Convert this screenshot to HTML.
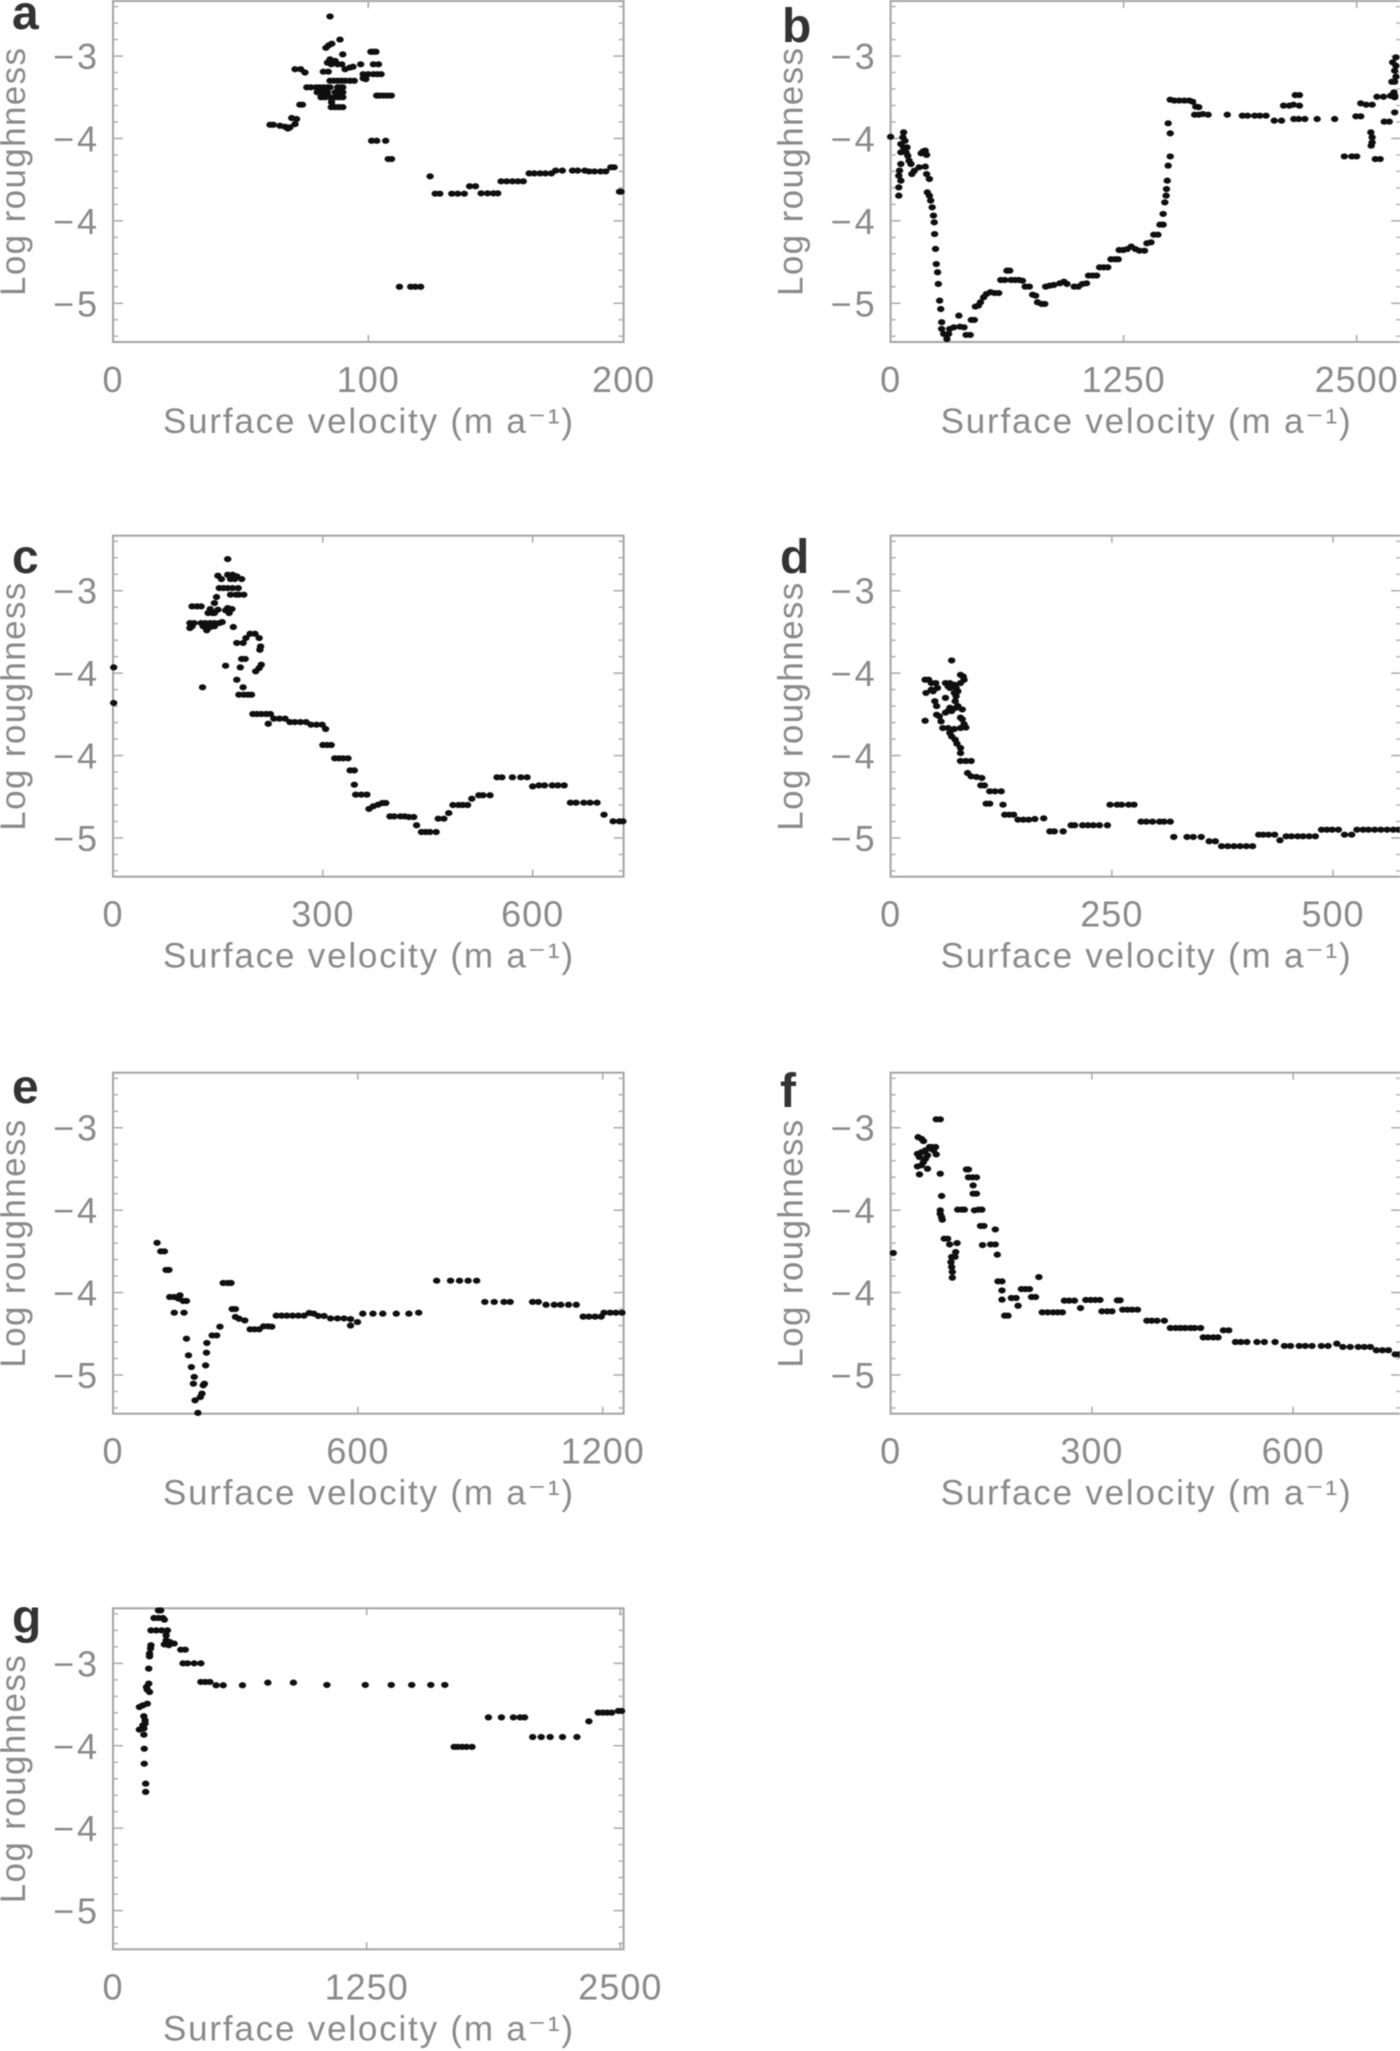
<!DOCTYPE html>
<html lang="en">
<head>
<meta charset="utf-8">
<title>Log roughness against surface velocity</title>
<style>
html,body{margin:0;padding:0;background:#fff;}
body{width:1400px;height:2051px;overflow:hidden;}
svg{display:block;filter:blur(0.6px);}
text{font-family:"Liberation Sans",sans-serif;fill:#8a8a8a;}
.panel-letter{font-weight:bold;font-size:48px;fill:#333;}
</style>
</head>
<body>
<svg id="figure" xmlns="http://www.w3.org/2000/svg" width="1400" height="2051" viewBox="0 0 1400 2051"></svg>
<script>
const yTickValues=[-3,-3.5,-4,-4.5];
const yTickLabels=["−3","−4","−4","−5"];
const yMinorValues=[-2.7,-2.8,-2.9,-3.1,-3.2,-3.3,-3.4,-3.6,-3.7,-3.8,-3.9,-4.1,-4.2,-4.3,-4.4,-4.6,-4.7];
const yMax=-2.666;
const yMin=-4.735;

const xMaxA=200, xMaxB=2739, xMaxC=730, xMaxD=577, xMaxE=1251, xMaxF=761, xMaxG=2516;
const xTicksA=[0,100,200];
const xTicksB=[0,1250,2500];
const xTicksC=[0,300,600];
const xTicksD=[0,250,500];
const xTicksE=[0,600,1200];
const xTicksF=[0,300,600];
const xTicksG=[0,1250,2500];

const pointsA=[[85,-2.76],[88.9,-2.9],[85.7,-2.925],[84.5,-2.935],[83.4,-2.95],[101,-2.974],[102,-2.974],[103,-2.974],[90,-2.99],
[84,-3.04],[85,-3.02],[86,-3.03],[87,-3.03],[88,-3.05],[85.5,-3.05],[89.6,-3.05],[90.9,-3.08],[92.8,-3.07],[94,-3.065],[97,-3.05],[102,-3.05],[104,-3.05],
[71.3,-3.08],[73.5,-3.08],[75.2,-3.1],[82.4,-3.095],[84.3,-3.095],[98,-3.11],[100,-3.11],[102,-3.11],[103.5,-3.11],[105,-3.11],[99,-3.14],[98,-3.135],
[85,-3.15],[86.5,-3.15],[88,-3.15],[89.5,-3.15],[91,-3.15],[92.8,-3.15],[94.5,-3.15],[81,-3.19],[82.5,-3.19],[84,-3.19],[85,-3.19],[88,-3.19],[89,-3.19],[90,-3.19],
[80,-3.22],[82,-3.22],[84,-3.22],[87,-3.22],[89,-3.22],[90,-3.22],[81.5,-3.25],[83,-3.25],[85,-3.25],[87,-3.25],[88.5,-3.25],[90,-3.25],[75.9,-3.19],[77.5,-3.19],[79.5,-3.19],
[103.3,-3.24],[104.5,-3.24],[106,-3.24],[107.5,-3.24],[109,-3.24],[73.2,-3.295],[74.2,-3.295],[85.6,-3.28],[85.5,-3.31],[87,-3.31],[88.5,-3.31],[90,-3.31],
[70,-3.376],[71.9,-3.382],[71.3,-3.413],[69.3,-3.433],[68.5,-3.44],[67.4,-3.429],[65.4,-3.423],[62.8,-3.417],[61.5,-3.417],
[101.3,-3.514],[103.3,-3.514],[106.8,-3.514],[107.8,-3.625],[109.1,-3.625],[124.2,-3.73],
[126.2,-3.835],[128,-3.835],[132.7,-3.835],[135,-3.835],[137.6,-3.835],[139.7,-3.79],[142,-3.79],[144.2,-3.833],[146.7,-3.833],[149,-3.833],[150.7,-3.833],
[152,-3.76],[154.2,-3.76],[156.5,-3.76],[158.6,-3.76],[160.7,-3.76],[163,-3.712],[165,-3.712],[167.3,-3.712],[169.4,-3.712],[171.7,-3.712],[173.4,-3.695],[176,-3.695],
[180,-3.695],[182,-3.695],[184.8,-3.695],[186.5,-3.7],[188.6,-3.7],[191,-3.7],[193,-3.7],[195,-3.675],[196.3,-3.675],[198.4,-3.823],[199,-3.823],
[112.2,-4.4],[116.6,-4.4],[118.4,-4.4],[120.5,-4.4]];

const pointsB=[[0,-3.49],[70,-3.463],[55,-3.534],[66,-3.493],[77,-3.514],[55,-3.584],[70,-3.554],[88,-3.554],[83,-3.584],[92,-3.605],[99,-3.635],[109,-3.655],
[55,-3.655],[48,-3.695],[44,-3.726],[55,-3.756],[44,-3.797],[44,-3.847],[114,-3.716],[127,-3.696],[153,-3.675],[186,-3.671],[175,-3.578],[186,-3.574],[193,-3.6],[164,-3.59],
[193,-3.716],[208,-3.746],[197,-3.827],[208,-3.847],[215,-3.877],[223,-3.918],[230,-3.968],[234,-4.009],[236,-4.08],[241,-4.17],[245,-4.262],[252,-4.312],[256,-4.383],[263,-4.484],[269,-4.535],
[274,-4.615],[274,-4.656],[285,-4.686],[302,-4.717],[311,-4.686],[317,-4.656],[339,-4.646],[372,-4.642],[394,-4.646],[366,-4.575],[405,-4.692],[427,-4.692],[433,-4.601],[449,-4.601],
[455,-4.52],[471,-4.514],[482,-4.494],[499,-4.464],[514,-4.444],[536,-4.433],[558,-4.438],[580,-4.438],[591,-4.359],[613,-4.359],[624,-4.302],[639,-4.302],[646,-4.359],[668,-4.359],[689,-4.359],[707,-4.363],
[722,-4.399],[744,-4.399],[762,-4.448],[778,-4.454],[788,-4.494],[810,-4.504],[827,-4.504],[832,-4.399],[854,-4.393],[876,-4.389],[908,-4.379],[930,-4.369],[946,-4.383],[985,-4.399],[1007,-4.399],[1029,-4.383],[1051,-4.379],
[1062,-4.332],[1084,-4.332],[1105,-4.332],[1121,-4.282],[1143,-4.282],[1165,-4.282],[1182,-4.233],[1204,-4.233],[1221,-4.233],[1226,-4.177],[1248,-4.177],[1270,-4.171],[1291,-4.156],[1313,-4.171],[1335,-4.181],[1362,-4.181],
[1375,-4.136],[1397,-4.13],[1412,-4.084],[1434,-4.084],[1445,-4.023],[1462,-4.023],[1462,-3.958],[1471,-3.888],[1478,-3.847],[1480,-3.807],[1484,-3.756],[1489,-3.665],[1500,-3.609],[1500,-3.469],[1489,-3.408],
[1500,-3.265],[1522,-3.27],[1548,-3.27],[1576,-3.27],[1602,-3.27],[1620,-3.277],[1637,-3.307],[1653,-3.31],[1631,-3.356],[1653,-3.356],[1675,-3.352],[1703,-3.356],
[1806,-3.356],[1887,-3.362],[1915,-3.362],[1953,-3.362],[1981,-3.362],[2014,-3.362],[2058,-3.392],[2097,-3.392],[2108,-3.301],[2139,-3.301],[2161,-3.295],[2193,-3.301],[2171,-3.237],[2193,-3.237],
[2163,-3.382],[2189,-3.382],[2222,-3.382],[2288,-3.382],[2382,-3.382],[2496,-3.366],[2522,-3.366],[2522,-3.287],[2551,-3.295],[2583,-3.295],[2609,-3.247],[2644,-3.247],[2682,-3.241],[2704,-3.241],[2704,-3.25],
[2434,-3.609],[2474,-3.609],[2500,-3.609],[2576,-3.463],[2583,-3.493],[2583,-3.524],[2578,-3.544],[2600,-3.625],[2626,-3.625],[2648,-3.398],[2675,-3.398],[2704,-3.342],
[2711,-3.008],[2693,-3.038],[2711,-3.059],[2704,-3.089],[2711,-3.125],[2689,-3.156],[2704,-3.156],[2700,-3.22]];

const pointsC=[[164,-2.808],[150,-2.909],[155,-2.929],[164,-2.903],[171,-2.903],[177,-2.913],[168,-2.929],[174,-2.929],[184,-2.929],
[152,-2.984],[158,-2.984],[164,-2.984],[171,-2.984],[179,-2.984],[168,-3.024],[176,-3.024],[180,-3.024],[187,-3.024],[148,-3.038],[145,-3.075],[164,-3.105],[170,-3.111],[161,-3.119],[166,-3.135],
[113,-3.095],[120,-3.095],[126,-3.095],[136,-3.135],[142,-3.135],[139,-3.111],[150,-3.115],[145,-3.135],
[110,-3.196],[116,-3.196],[126,-3.196],[132,-3.196],[139,-3.196],[145,-3.196],[152,-3.196],[156,-3.19],[113,-3.216],[110,-3.226],[134,-3.24],[139,-3.22],[145,-3.216],[129,-3.216],[172,-3.22],
[177,-3.317],[186,-3.317],[196,-3.261],[203,-3.261],[190,-3.287],[209,-3.287],[211,-3.338],[210,-3.358],[184,-3.414],[189,-3.414],[182,-3.465],[161,-3.455],[212,-3.449],[209,-3.469],[204,-3.489],
[177,-3.54],[186,-3.586],[128,-3.586],[180,-3.631],[187,-3.631],[193,-3.631],[198,-3.631],[1,-3.465],[1,-3.681],
[200,-3.748],[206,-3.748],[212,-3.748],[219,-3.748],[225,-3.748],[222,-3.807],[230,-3.776],[238,-3.776],[246,-3.776],[253,-3.797],[260,-3.797],[268,-3.797],[276,-3.797],[283,-3.813],[291,-3.813],[299,-3.813],[304,-3.839],
[300,-3.936],[306,-3.936],[312,-3.936],[317,-4.017],[323,-4.017],[329,-4.017],[336,-4.017],[339,-4.09],[345,-4.09],[345,-4.177],[347,-4.237],[355,-4.237],[363,-4.237],
[366,-4.324],[372,-4.308],[379,-4.298],[385,-4.288],[390,-4.288],[396,-4.369],[402,-4.369],[411,-4.369],[417,-4.369],[423,-4.373],[430,-4.373],[434,-4.423],
[441,-4.464],[447,-4.464],[453,-4.464],[462,-4.464],[465,-4.383],[473,-4.383],[480,-4.349],[486,-4.3],[494,-4.3],[500,-4.3],[507,-4.3],[513,-4.262],[523,-4.241],[529,-4.241],[539,-4.241],
[549,-4.132],[556,-4.132],[571,-4.132],[583,-4.132],[592,-4.132],[600,-4.187],[609,-4.181],[617,-4.181],[628,-4.181],[636,-4.181],[645,-4.181],
[654,-4.286],[662,-4.286],[673,-4.286],[682,-4.286],[692,-4.286],[702,-4.359],[715,-4.399],[724,-4.399],[729,-4.399]];

const pointsD=[[69,-3.423],[39,-3.54],[43,-3.54],[40,-3.62],[46,-3.56],[51,-3.56],[53,-3.59],[48,-3.61],[46,-3.6],[50,-3.67],[52,-3.7],[52,-3.752],[55,-3.762],[39,-3.789],[57,-3.793],[59,-3.833],[65,-3.833],[72,-3.839],[79,-3.833],
[62,-3.56],[67,-3.56],[72,-3.57],[79,-3.51],[82,-3.52],[83,-3.54],[79,-3.56],[74,-3.59],[76,-3.61],[72,-3.62],[67,-3.59],[65,-3.58],[62,-3.65],[74,-3.64],[73,-3.67],[76,-3.7],[67,-3.71],[62,-3.74],[69,-3.73],[81,-3.72],[79,-3.77],[81,-3.78],[83,-3.81],[85,-3.83],[65,-3.73],[74,-3.71],
[67,-3.863],[69,-3.884],[73,-3.904],[75,-3.928],[79,-3.954],[79,-3.985],[79,-4.033],[85,-4.033],[91,-4.033],[87,-4.106],[91,-4.126],[97,-4.13],[103,-4.136],[102,-4.181],[106,-4.181],
[112,-4.217],[118,-4.217],[125,-4.217],[108,-4.292],[112,-4.292],[127,-4.298],[129,-4.359],[134,-4.359],[139,-4.359],[144,-4.389],[150,-4.389],[156,-4.389],[163,-4.385],[173,-4.381],
[180,-4.46],[185,-4.46],[195,-4.46],[204,-4.423],[208,-4.423],[217,-4.423],[223,-4.423],[229,-4.423],[236,-4.423],[245,-4.423],[248,-4.298],[256,-4.298],[261,-4.298],[269,-4.298],[275,-4.298],
[283,-4.401],[289,-4.401],[296,-4.401],[304,-4.401],[309,-4.401],[316,-4.401],[320,-4.494],[335,-4.494],[342,-4.494],[351,-4.494],[360,-4.52],[367,-4.52],
[374,-4.55],[381,-4.55],[388,-4.55],[395,-4.55],[402,-4.55],[409,-4.55],[416,-4.48],[421,-4.48],[427,-4.48],[434,-4.48],[440,-4.514],
[447,-4.49],[453,-4.49],[460,-4.49],[466,-4.49],[473,-4.49],[480,-4.49],[487,-4.45],[493,-4.45],[499,-4.45],[506,-4.45],[513,-4.48],[521,-4.48],
[527,-4.45],[534,-4.45],[540,-4.45],[547,-4.45],[554,-4.45],[561,-4.45],[568,-4.45],[574,-4.45]];

const pointsE=[[108,-3.698],[117,-3.75],[126,-3.75],[130,-3.863],[137,-3.863],[139,-4.027],[150,-4.027],[164,-4.017],[161,-4.037],[172,-4.051],[180,-4.051],[150,-4.122],[174,-4.122],
[180,-4.28],[185,-4.381],[192,-4.452],[199,-4.512],[197,-4.553],[224,-4.553],[221,-4.563],[227,-4.442],[229,-4.365],[230,-4.306],[201,-4.654],[214,-4.634],[218,-4.613],[208,-4.73],
[243,-4.26],[254,-4.26],[262,-4.207],[270,-3.942],[281,-3.942],[289,-3.942],[292,-4.1],[300,-4.1],[300,-4.148],[309,-4.159],[323,-4.169],
[336,-4.223],[347,-4.223],[358,-4.223],[369,-4.205],[380,-4.205],[389,-4.207],[400,-4.14],[413,-4.14],[426,-4.14],[440,-4.14],[454,-4.14],[468,-4.14],[481,-4.124],[492,-4.128],[503,-4.142],[517,-4.142],
[533,-4.157],[550,-4.157],[566,-4.157],[582,-4.161],[582,-4.2],[599,-4.179],[612,-4.128],[637,-4.128],[661,-4.128],[694,-4.128],[725,-4.128],[749,-4.122],
[793,-3.928],[827,-3.928],[849,-3.928],[870,-3.928],[891,-3.928],[911,-4.057],[934,-4.057],[958,-4.057],[973,-4.057],[1028,-4.057],[1042,-4.057],
[1061,-4.074],[1081,-4.074],[1097,-4.074],[1116,-4.074],[1135,-4.074],[1152,-4.146],[1166,-4.146],[1181,-4.146],[1196,-4.146],[1203,-4.122],[1218,-4.122],[1232,-4.122],[1247,-4.122]];

const pointsF=[[4,-3.76],[68,-2.949],[74,-2.949],[41,-3.057],[46,-3.067],[49,-3.081],[61,-3.117],[67,-3.117],[58,-3.125],
[40,-3.158],[46,-3.148],[52,-3.137],[58,-3.117],[55,-3.168],[64,-3.137],[68,-3.162],[43,-3.178],[52,-3.188],[49,-3.208],[40,-3.235],[46,-3.228],[55,-3.249],[43,-3.283],
[74,-3.279],[76,-3.414],[74,-3.501],[74,-3.522],[76,-3.542],[77,-3.558],[80,-3.673],[85,-3.673],[88,-3.708],[99,-3.7],[97,-3.754],[91,-3.784],[96,-3.784],[90,-3.815],[91,-3.845],[92,-3.875],[92,-3.91],
[113,-3.253],[116,-3.253],[116,-3.301],[122,-3.301],[128,-3.301],[123,-3.35],[123,-3.4],[128,-3.4],[100,-3.497],[106,-3.497],[110,-3.497],[125,-3.501],[131,-3.497],[136,-3.497],[134,-3.596],[139,-3.596],[156,-3.617],
[137,-3.712],[149,-3.708],[156,-3.708],[159,-3.77],[160,-3.932],[166,-3.932],[166,-3.987],[166,-4.043],[180,-4.033],[187,-4.033],[190,-4.08],[170,-4.14],[175,-4.14],
[195,-3.979],[201,-3.979],[207,-3.979],[210,-4.027],[216,-4.027],[221,-3.906],[226,-4.12],[234,-4.12],[242,-4.12],[249,-4.12],[256,-4.12],[259,-4.049],[266,-4.049],[274,-4.049],[283,-4.094],
[291,-4.045],[298,-4.045],[305,-4.045],[312,-4.045],[315,-4.114],[323,-4.114],[330,-4.114],[338,-4.047],[342,-4.047],[346,-4.104],[353,-4.104],[360,-4.104],[368,-4.104],
[382,-4.171],[389,-4.171],[397,-4.171],[408,-4.171],[417,-4.215],[425,-4.215],[432,-4.215],[439,-4.215],[447,-4.215],[453,-4.215],[462,-4.215],[466,-4.272],[473,-4.272],[481,-4.272],[488,-4.272],[496,-4.229],[504,-4.229],
[514,-4.3],[522,-4.3],[531,-4.3],[546,-4.3],[557,-4.3],[573,-4.3],[587,-4.324],[596,-4.324],[609,-4.324],[618,-4.324],[628,-4.324],[642,-4.324],[652,-4.324],[665,-4.31],
[674,-4.33],[685,-4.33],[697,-4.33],[706,-4.33],[715,-4.33],[724,-4.35],[733,-4.35],[742,-4.35],[752,-4.375],[758,-4.375]];

const pointsG=[[224,-2.679],[235,-2.679],[202,-2.725],[224,-2.725],[246,-2.725],[253,-2.735],[187,-2.8],[213,-2.8],[240,-2.8],[268,-2.8],[262,-2.83],[262,-2.86],[279,-2.87],[253,-2.885],[275,-2.89],[301,-2.88],
[334,-2.917],[356,-2.917],[187,-2.89],[185,-2.91],[180,-2.941],[180,-2.958],[345,-3],[367,-3],[400,-3],[433,-3],[176,-3.032],
[176,-3.123],[165,-3.144],[169,-3.16],[180,-3.174],[169,-3.245],[147,-3.255],[130,-3.265],[152,-3.321],[158,-3.346],[147,-3.376],[130,-3.402],[152,-3.395],[158,-3.365],[152,-3.433],[154,-3.518],[154,-3.609],[161,-3.73],[161,-3.78],
[433,-3.113],[455,-3.113],[477,-3.113],[508,-3.133],[543,-3.133],[638,-3.133],[763,-3.117],[889,-3.117],[1054,-3.131],[1243,-3.131],[1371,-3.131],[1472,-3.131],[1566,-3.131],[1635,-3.131],
[1681,-3.507],[1698,-3.507],[1720,-3.507],[1742,-3.507],[1769,-3.507],[1850,-3.328],[1914,-3.328],[1973,-3.328],[2006,-3.328],[2028,-3.328],
[2068,-3.447],[2110,-3.447],[2154,-3.447],[2215,-3.447],[2286,-3.447],[2345,-3.352],[2391,-3.299],[2413,-3.299],[2435,-3.299],[2457,-3.299],[2490,-3.289],[2506,-3.289]];

const frameWidth=510.6;
const frameHeight=341;
const panelLayout=[
  {letter:"a",left:113,top:1,letterX:12,letterY:29,xMax:xMaxA,xTicks:xTicksA,points:pointsA},
  {letter:"b",left:890.6,top:1,letterX:782,letterY:42,xMax:xMaxB,xTicks:xTicksB,points:pointsB},
  {letter:"c",left:113,top:535.7,letterX:12,letterY:573,xMax:xMaxC,xTicks:xTicksC,points:pointsC},
  {letter:"d",left:890.6,top:535.7,letterX:780,letterY:573,xMax:xMaxD,xTicks:xTicksD,points:pointsD},
  {letter:"e",left:113,top:1072.7,letterX:12,letterY:1103,xMax:xMaxE,xTicks:xTicksE,points:pointsE},
  {letter:"f",left:890.6,top:1072.7,letterX:780,letterY:1107,xMax:xMaxF,xTicks:xTicksF,points:pointsF},
  {letter:"g",left:113,top:1608.3,letterX:12,letterY:1633,xMax:xMaxG,xTicks:xTicksG,points:pointsG}
];

const svg=document.getElementById('figure');
const NS='http://www.w3.org/2000/svg';

function make(parent,tag,attrs,content){
  const el=document.createElementNS(NS,tag);
  for(const k in attrs){el.setAttribute(k,attrs[k]);}
  if(content!==undefined){el.textContent=content;}
  parent.appendChild(el);
  return el;
}

panelLayout.forEach(function(p){
  const xScale=function(v){return p.left+v/p.xMax*frameWidth;};
  const yScale=function(r){return p.top+(yMax-r)/(yMax-yMin)*frameHeight;};
  const bottom=p.top+frameHeight;
  const right=p.left+frameWidth;

  const g=make(svg,'g',{});
  
  

  const letter=make(g,'text',{x:p.letterX,y:p.letterY,'class':'panel-letter'},p.letter);
  
  

  const frame=make(g,'rect',{x:p.left,y:p.top,width:frameWidth,height:frameHeight,fill:'none',stroke:'#a4a4a4','stroke-width':2});
  
  

  yMinorValues.forEach(function(r){
    const y=yScale(r);
    const l1=make(g,'line',{x1:p.left,x2:p.left+5,y1:y,y2:y,stroke:'#b0b0b0','stroke-width':1.5});
    
    
    const l2=make(g,'line',{x1:right-5,x2:right,y1:y,y2:y,stroke:'#b0b0b0','stroke-width':1.5});
    
    
  });

  yTickValues.forEach(function(r,i){
    const y=yScale(r);
    const l1=make(g,'line',{x1:p.left,x2:p.left+10,y1:y,y2:y,stroke:'#a8a8a8','stroke-width':1.5});
    
    
    const l2=make(g,'line',{x1:right-10,x2:right,y1:y,y2:y,stroke:'#a8a8a8','stroke-width':1.5});
    
    
    const t=make(g,'text',{x:p.left-13,y:y+13,'text-anchor':'end','font-size':36,'letter-spacing':3},yTickLabels[i]);
    
    
  });

  p.xTicks.forEach(function(v){
    const x=xScale(v);
    if(v!==0){
      const l1=make(g,'line',{x1:x,x2:x,y1:bottom-7,y2:bottom,stroke:'#a8a8a8','stroke-width':1.5});
      
      
      const l2=make(g,'line',{x1:x,x2:x,y1:p.top,y2:p.top+7,stroke:'#a8a8a8','stroke-width':1.5});
      
      
    }
    const t=make(g,'text',{x:x,y:bottom+50,'text-anchor':'middle','font-size':36,'letter-spacing':1},String(v));
    
    
  });

  const xTitle=make(g,'text',{x:p.left+50,y:bottom+91,'font-size':35,textLength:410,lengthAdjust:'spacing'},'Surface velocity (m a⁻¹)');
  
  

  const yX=p.left-88;
  const yY=p.top+295;
  const yTitle=make(g,'text',{x:yX,y:yY,transform:'rotate(-90 '+yX+' '+yY+')','font-size':35,textLength:248,lengthAdjust:'spacing'},'Log roughness');
  
  

  const series=make(g,'g',{fill:'#0f0f0f'});
  
  
  p.points.forEach(function(pt){
    const dot=make(series,'ellipse',{cx:xScale(pt[0]),cy:yScale(pt[1]),rx:3.7,ry:3.1});
    
    
  });
});
</script>
</body>
</html>
